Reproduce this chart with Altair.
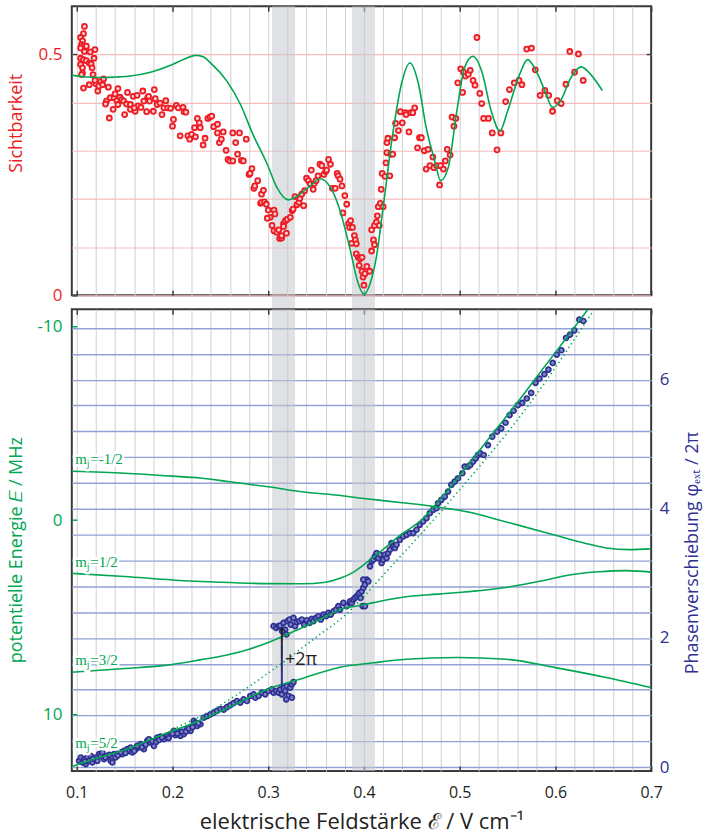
import altair as alt
import pandas as pd

# ---------------- colours ----------------
RED = "#ed1c24"
GREEN = "#00a651"
BLUE = "#2e3192"
DARK = "#231f20"
FRAME = "#3a3a3a"
FONT = "Open Sans"

# ---------------- axes / domains ----------------
X_DOMAIN = [0.0948, 0.7]
VIS_DOMAIN = [0, 0.6]
E_DOMAIN = [-10.87, 12.93]
P_DOMAIN = [-0.06, 7.09]

major_ticks = [0.1, 0.2, 0.3, 0.4, 0.5, 0.6, 0.7]
minor_grid = [0.1, 0.12, 0.14, 0.16, 0.18, 0.2, 0.22, 0.24, 0.26, 0.28, 0.3, 0.32, 0.34,
              0.36, 0.38, 0.4, 0.42, 0.44, 0.46, 0.48, 0.5, 0.52, 0.54, 0.56, 0.58, 0.6,
              0.62, 0.64, 0.66, 0.68]
vis_grid = [0, 0.1, 0.2, 0.3, 0.4, 0.5]
energy_ticks = [-10, 0, 10]
phase_grid = [0, 0.4, 0.8, 1.2, 1.6, 2, 2.4, 2.8, 3.2, 3.6, 4, 4.4, 4.8, 5.2, 5.6, 6, 6.4, 6.8]

# shaded field regions
band_start = [0.304, 0.3875]
band_end = [0.328, 0.4115]

# ---------------- visibility data (top panel) ----------------
vis_x = [
    0.108, 0.107, 0.104, 0.106, 0.105, 0.107, 0.110, 0.104, 0.108, 0.104,
    0.107, 0.110, 0.113, 0.104, 0.115, 0.106, 0.116, 0.118, 0.119, 0.114,
    0.106, 0.117, 0.105, 0.107, 0.113, 0.120, 0.119, 0.123, 0.125, 0.128,
    0.127, 0.122, 0.133, 0.131, 0.130, 0.135, 0.139, 0.138, 0.134, 0.143,
    0.140, 0.142, 0.145, 0.147, 0.143, 0.149, 0.152, 0.153, 0.156, 0.156,
    0.150, 0.159, 0.161, 0.163, 0.164, 0.160, 0.167, 0.170, 0.169, 0.174,
    0.175, 0.176, 0.181, 0.182, 0.180, 0.173, 0.184, 0.187, 0.189, 0.191,
    0.193, 0.195, 0.198, 0.200, 0.201, 0.204, 0.206, 0.208, 0.211, 0.212,
    0.214, 0.216, 0.218, 0.220, 0.223, 0.224, 0.226, 0.228, 0.229, 0.232,
    0.234, 0.237, 0.239, 0.241, 0.243, 0.247, 0.247, 0.249, 0.251, 0.253,
    0.256, 0.258, 0.260, 0.263, 0.263, 0.266, 0.268, 0.270, 0.272, 0.274,
    0.277, 0.280, 0.281, 0.283, 0.285, 0.286, 0.289, 0.292, 0.293, 0.295,
    0.293, 0.296, 0.298, 0.300, 0.302, 0.299, 0.304, 0.306, 0.307, 0.306,
    0.309, 0.311, 0.312, 0.314, 0.316, 0.314, 0.316, 0.319, 0.318, 0.320,
    0.323, 0.325, 0.326, 0.328, 0.330, 0.332, 0.333, 0.335, 0.337, 0.338,
    0.340, 0.342, 0.344, 0.345, 0.347, 0.348, 0.350, 0.352, 0.354, 0.356,
    0.358, 0.360, 0.361, 0.363, 0.365, 0.367, 0.370, 0.372, 0.373,
    0.375, 0.377, 0.380, 0.378, 0.382, 0.384, 0.386, 0.385, 0.388, 0.387,
    0.390, 0.391, 0.392, 0.392, 0.394, 0.396, 0.398, 0.395, 0.398, 0.399,
    0.401, 0.403, 0.406, 0.400, 0.408, 0.410, 0.411, 0.408, 0.411, 0.413,
    0.414, 0.416, 0.415, 0.417, 0.418, 0.420, 0.419, 0.422, 0.423, 0.424,
    0.424, 0.425, 0.427, 0.428, 0.430, 0.432, 0.433, 0.436, 0.438, 0.440,
    0.443, 0.444, 0.447, 0.449, 0.451, 0.453, 0.456, 0.458, 0.460, 0.463,
    0.465, 0.467, 0.469, 0.472, 0.473, 0.476, 0.479, 0.480, 0.483, 0.485,
    0.487, 0.490, 0.492, 0.494, 0.496, 0.498, 0.501, 0.503, 0.504, 0.506,
    0.509, 0.511, 0.514, 0.516, 0.518, 0.521, 0.523, 0.525, 0.530, 0.534,
    0.539, 0.543, 0.548, 0.552, 0.557, 0.562, 0.565, 0.570, 0.575, 0.579,
    0.584, 0.589, 0.593, 0.597, 0.602, 0.606, 0.611, 0.615, 0.620, 0.624, 0.629,
]
vis_y = [
    0.558, 0.543, 0.535, 0.528, 0.520, 0.517, 0.517, 0.513, 0.506, 0.492,
    0.489, 0.487, 0.482, 0.479, 0.480, 0.472, 0.472, 0.492, 0.510, 0.505,
    0.461, 0.458, 0.458, 0.430, 0.437, 0.439, 0.446, 0.434, 0.444, 0.449,
    0.437, 0.424, 0.432, 0.403, 0.397, 0.410, 0.410, 0.386, 0.368, 0.429,
    0.418, 0.404, 0.411, 0.406, 0.396, 0.403, 0.397, 0.421, 0.396, 0.386,
    0.375, 0.413, 0.382, 0.415, 0.393, 0.389, 0.390, 0.403, 0.424, 0.410,
    0.413, 0.403, 0.427, 0.408, 0.382, 0.381, 0.396, 0.399, 0.375, 0.389,
    0.404, 0.389, 0.388, 0.351, 0.365, 0.394, 0.389, 0.331, 0.390, 0.381,
    0.380, 0.331, 0.324, 0.334, 0.348, 0.329, 0.367, 0.358, 0.348, 0.312,
    0.326, 0.367, 0.370, 0.372, 0.350, 0.355, 0.337, 0.317, 0.324, 0.339,
    0.301, 0.282, 0.279, 0.279, 0.337, 0.317, 0.293, 0.337, 0.280, 0.279,
    0.324, 0.251, 0.253, 0.263, 0.222, 0.227, 0.238, 0.191, 0.210, 0.218,
    0.193, 0.194, 0.189, 0.177, 0.162, 0.160, 0.145, 0.177, 0.169, 0.134,
    0.131, 0.136, 0.118, 0.119, 0.149, 0.124, 0.143, 0.129, 0.155, 0.158,
    0.162, 0.176, 0.179, 0.205, 0.188, 0.193, 0.201, 0.210, 0.186, 0.217,
    0.243, 0.238, 0.231, 0.260, 0.220, 0.232, 0.238, 0.248, 0.272, 0.269,
    0.251, 0.257, 0.260, 0.282, 0.272, 0.222, 0.222, 0.253, 0.248,
    0.241, 0.227, 0.207, 0.171, 0.189, 0.149, 0.155, 0.141, 0.141, 0.108,
    0.124, 0.115, 0.107, 0.086, 0.079, 0.076, 0.079, 0.062, 0.050, 0.038,
    0.045, 0.060, 0.050, 0.021, 0.092, 0.115, 0.105, 0.136, 0.145, 0.152,
    0.165, 0.145, 0.184, 0.191, 0.220, 0.184, 0.253, 0.247, 0.275, 0.296,
    0.317, 0.326, 0.248, 0.293, 0.293, 0.327, 0.357, 0.342, 0.381, 0.358,
    0.379, 0.375, 0.339, 0.379, 0.379, 0.389, 0.306, 0.327, 0.327, 0.300,
    0.262, 0.303, 0.269, 0.287, 0.265, 0.269, 0.229, 0.269, 0.262, 0.279,
    0.303, 0.291, 0.370, 0.351, 0.367, 0.441, 0.470, 0.421, 0.463, 0.455,
    0.459, 0.467, 0.446, 0.436, 0.535, 0.419, 0.398, 0.367, 0.367, 0.337,
    0.302, 0.337, 0.402, 0.427, 0.441, 0.446, 0.437, 0.511, 0.513, 0.468,
    0.415, 0.425, 0.415, 0.382, 0.404, 0.398, 0.438, 0.506, 0.463, 0.501, 0.446,
]

# theoretical visibility curve
visfit_x = [0.0948, 0.11, 0.125, 0.14, 0.156, 0.177, 0.2, 0.212, 0.224, 0.232, 0.24, 0.257,
            0.271, 0.284, 0.299, 0.309, 0.321, 0.333, 0.344, 0.354, 0.365, 0.375, 0.385,
            0.394, 0.4, 0.406, 0.413, 0.42, 0.43, 0.439, 0.448, 0.457, 0.465, 0.474, 0.48,
            0.488, 0.497, 0.505, 0.514, 0.523, 0.533, 0.542, 0.55, 0.5625, 0.571, 0.58,
            0.589, 0.597, 0.606, 0.616, 0.627, 0.637, 0.649]
visfit_y = [0.457, 0.453, 0.452, 0.453, 0.455, 0.463, 0.479, 0.49, 0.498, 0.495, 0.482, 0.444,
            0.396, 0.334, 0.272, 0.224, 0.198, 0.21, 0.227, 0.242, 0.224, 0.176, 0.1,
            0.025, 0.002, 0.022, 0.08, 0.182, 0.334, 0.437, 0.482, 0.438, 0.348, 0.279, 0.238,
            0.265, 0.382, 0.472, 0.496, 0.465, 0.382, 0.341, 0.382, 0.458, 0.489, 0.465,
            0.424, 0.39, 0.406, 0.451, 0.474, 0.458, 0.425]

# ---------------- phase data (bottom panel, right axis) ----------------
phase_x = [
    0.1024, 0.1042, 0.1059, 0.1076, 0.1094, 0.1111, 0.1128, 0.1146, 0.1163, 0.1181,
    0.1198, 0.1215, 0.1233, 0.125, 0.1267, 0.1285, 0.1319, 0.1354, 0.1372, 0.1389,
    0.1406, 0.1441, 0.1476, 0.1493, 0.1528, 0.1545, 0.1563, 0.158, 0.1615, 0.1649,
    0.1667, 0.1701, 0.1736, 0.1753, 0.1771, 0.1806, 0.184, 0.1875, 0.191, 0.1944,
    0.1979, 0.2014, 0.2031, 0.2066, 0.2083, 0.2118, 0.2153, 0.2188, 0.2222, 0.224,
    0.2257, 0.2292,
    0.1085, 0.117, 0.130, 0.134, 0.143, 0.146, 0.151, 0.160, 0.163, 0.168,
    0.172, 0.179, 0.183, 0.186, 0.189, 0.196, 0.200, 0.205, 0.210, 0.214, 0.217, 0.221, 0.227,
    0.2326, 0.2361, 0.2396, 0.2431, 0.2465, 0.25, 0.2535, 0.2569, 0.2604, 0.2639,
    0.2674, 0.2708, 0.2743, 0.2778, 0.2813, 0.2847, 0.2865, 0.2899, 0.2934, 0.2969,
    0.3003, 0.3038, 0.3056, 0.3083, 0.3108, 0.3125, 0.3142, 0.316, 0.3177, 0.3194,
    0.3212, 0.3229, 0.3247, 0.3188, 0.3247, 0.3264,
    0.3056, 0.3083, 0.3108, 0.3125, 0.316, 0.3177, 0.3201, 0.3222, 0.3236, 0.3264,
    0.3281, 0.3299, 0.3326, 0.3351, 0.3375, 0.3403, 0.3431, 0.3455, 0.3472, 0.35,
    0.3524, 0.3549, 0.3576, 0.3604, 0.3628, 0.3653, 0.3681, 0.3708, 0.3733, 0.319, 0.3146,
    0.375, 0.3785, 0.3819, 0.3854, 0.3872, 0.3889, 0.3906, 0.3924, 0.3941, 0.3951,
    0.3965, 0.3976, 0.3986, 0.401, 0.3993, 0.401, 0.4028, 0.4045, 0.3993, 0.4063,
    0.408, 0.4097, 0.4115, 0.4132, 0.4149, 0.4167, 0.4184, 0.4201, 0.4219, 0.4236,
    0.4253, 0.4271, 0.4288, 0.4306, 0.4323, 0.434, 0.4375, 0.441, 0.4444, 0.4479,
    0.4514, 0.4549, 0.4583, 0.4618, 0.4653, 0.4688, 0.4722, 0.4757, 0.4774, 0.4809,
    0.4844, 0.4878, 0.4913, 0.4948, 0.4983,
    0.5028, 0.5052, 0.5087, 0.5111, 0.5139, 0.5167, 0.5191, 0.5215, 0.525, 0.5295,
    0.534, 0.5389, 0.5434, 0.5479, 0.5521, 0.5563, 0.5608, 0.5653, 0.5701, 0.5747,
    0.5792, 0.5833, 0.5885, 0.5927, 0.5972, 0.6014, 0.6063, 0.6111, 0.6153, 0.6198, 0.625, 0.6292,
]
phase_y = [
    0.098, 0.149, 0.072, 0.124, 0.046, 0.149, 0.098, 0.175, 0.072, 0.124,
    0.149, 0.098, 0.201, 0.175, 0.227, 0.124, 0.175, 0.098, 0.072, 0.201,
    0.149, 0.227, 0.201, 0.252, 0.278, 0.252, 0.304, 0.227, 0.278, 0.304,
    0.355, 0.278, 0.407, 0.432, 0.381, 0.329, 0.458, 0.474, 0.432, 0.484,
    0.510, 0.561, 0.494, 0.546, 0.484, 0.510, 0.587, 0.561, 0.716, 0.690,
    0.638, 0.664,
    0.09, 0.13, 0.15, 0.19, 0.18, 0.23, 0.22, 0.25, 0.33, 0.31,
    0.35, 0.40, 0.39, 0.42, 0.46, 0.45, 0.52, 0.52, 0.55, 0.55, 0.60, 0.62, 0.68,
    0.765, 0.79, 0.815, 0.845, 0.87, 0.9, 0.89, 0.93, 0.96, 0.99,
    1.024, 0.999, 1.050, 1.024, 1.102, 1.127, 1.076, 1.102, 1.153, 1.127,
    1.179, 1.205, 1.153, 1.179, 1.153, 1.205, 1.127, 1.230, 1.179, 1.256,
    1.102, 1.230, 1.282, 1.050, 1.076, 1.318,
    2.183, 2.157, 2.183, 2.193, 2.234, 2.131, 2.260, 2.286, 2.208, 2.311,
    2.183, 2.245, 2.260, 2.286, 2.208, 2.275, 2.234, 2.296, 2.260, 2.311,
    2.337, 2.286, 2.363, 2.337, 2.389, 2.363, 2.414, 2.440, 2.492, 2.054, 2.106,
    2.440, 2.543, 2.492, 2.569, 2.543, 2.595, 2.620, 2.646, 2.672, 2.698,
    2.620, 2.723, 2.492, 2.492, 2.775, 2.826, 2.904, 2.878, 2.904, 3.109,
    3.187, 3.212, 3.264, 3.315, 3.238, 3.290, 3.161, 3.212, 3.290, 3.238,
    3.315, 3.367, 3.470, 3.418, 3.393, 3.444, 3.521, 3.573, 3.598, 3.624,
    3.624, 3.676, 3.753, 3.804, 3.856, 3.933, 3.985, 4.010, 4.087, 4.139,
    4.190, 4.268, 4.371, 4.422, 4.474,
    4.551, 4.654, 4.654, 4.680, 4.731, 4.782, 4.834, 4.860, 4.834, 4.988,
    5.117, 5.194, 5.246, 5.333, 5.452, 5.519, 5.606, 5.642, 5.709, 5.797,
    5.951, 6.018, 6.085, 6.157, 6.260, 6.389, 6.456, 6.646, 6.698, 6.764, 6.929, 6.909,
]

# ---------------- energy levels (bottom panel, left axis) ----------------
lvl_m12n_x = [0.0948, 0.15, 0.2, 0.229, 0.26, 0.3, 0.333, 0.37, 0.4, 0.44, 0.472, 0.514,
              0.54, 0.566, 0.6, 0.63, 0.653, 0.677, 0.7]
lvl_m12n_E = [-2.52, -2.42, -2.27, -2.17, -1.98, -1.72, -1.48, -1.3, -1.12, -0.9, -0.71, -0.37,
              -0.02, 0.32, 0.78, 1.18, 1.43, 1.52, 1.48]
lvl_m12_x = [0.0948, 0.15, 0.2, 0.25, 0.3, 0.335, 0.36, 0.375, 0.39, 0.405, 0.42, 0.44, 0.46,
             0.48, 0.5, 0.52, 0.54, 0.56, 0.58, 0.6, 0.62, 0.634]
lvl_m12_E = [2.74, 2.9, 3.08, 3.2, 3.27, 3.28, 3.2, 3.0, 2.65, 2.1, 1.5, 0.7, 0.0,
             -1.1, -2.3, -3.55, -4.8, -6.05, -7.35, -8.65, -9.95, -10.87]
lvl_m32_x = [0.0948, 0.15, 0.19, 0.229, 0.257, 0.28, 0.3, 0.316, 0.33, 0.344, 0.36, 0.375,
             0.39, 0.41, 0.444, 0.48, 0.514, 0.54, 0.566, 0.59, 0.618, 0.645, 0.674, 0.7]
lvl_m32_E = [7.84, 7.65, 7.5, 7.2, 6.95, 6.65, 6.3, 5.97, 5.66, 5.35, 4.97, 4.6,
             4.45, 4.25, 3.95, 3.8, 3.66, 3.52, 3.32, 3.08, 2.8, 2.66, 2.6, 2.68]
lvl_m52_x = [0.0948, 0.118, 0.153, 0.1875, 0.222, 0.257, 0.264, 0.299, 0.333, 0.375, 0.41,
             0.444, 0.497, 0.549, 0.6, 0.653, 0.7]
lvl_m52_E = [12.7, 12.31, 11.8, 11.1, 10.45, 9.7, 9.53, 8.71, 8.2, 7.58, 7.35,
             7.17, 7.08, 7.17, 7.6, 8.11, 8.63]

# dotted comparison curve
dot_x = [0.2, 0.243, 0.3, 0.354, 0.375, 0.43, 0.5, 0.57, 0.64]
dot_E = [10.78, 9.74, 7.88, 5.89, 5.12, 2.3, -1.57, -5.8, -10.82]

# level labels
label_x = [0.0985, 0.0985, 0.0985, 0.0985]
label_E = [-2.87, 2.43, 7.48, 11.73]
label_rest = ["=-1/2", "=1/2", "=3/2", "=5/2"]

# +2pi jump
jump_x = [0.3142, 0.3142, 0.3142, 0.3142]
jump_top = [2.14, 1.91, 1.69, 1.46]
jump_bot = [1.91, 1.69, 1.46, 1.23]
jump_col = ["#231f20", "#22224a", "#282b74", "#2e3192"]
jump_text_x = [0.3175]
jump_text_p = [1.66]

# ---------------- layout ----------------
W, HT, HB, GAP = 581, 290, 463, 14

xs = alt.Scale(domain=X_DOMAIN, nice=False, zero=False)
vis_scale = alt.Scale(domain=VIS_DOMAIN, nice=False, zero=False)
e_scale = alt.Scale(domain=E_DOMAIN, reverse=True, nice=False, zero=False)
p_scale = alt.Scale(domain=P_DOMAIN, nice=False, zero=False)

band_df = pd.DataFrame({"start": band_start, "end": band_end})


def grid_axis():
    return alt.Axis(orient="bottom", values=minor_grid, grid=True, gridColor="#d0d0d0",
                    gridWidth=1, ticks=False, labels=False, domain=False, title=None)


def tick_axis(orient):
    return alt.Axis(orient=orient, values=major_ticks, offset=-5, tickSize=5, tickWidth=1.5,
                    tickColor=FRAME, labels=False, domain=False, grid=False, title=None)


BAND_COLOR = "#c6c9cd"

# ----- top panel -----
top_band = alt.Chart(band_df).mark_rect(color=BAND_COLOR, opacity=0.55).encode(
    x=alt.X("start:Q", scale=xs, axis=grid_axis()), x2="end:Q",
    y=alt.value(0), y2=alt.value(HT))
top_band_gap = alt.Chart(band_df).mark_rect(color=BAND_COLOR, opacity=0.55).encode(
    x=alt.X("start:Q", scale=xs, axis=None), x2="end:Q",
    y=alt.value(HT + 1), y2=alt.value(HT + GAP - 1))

vis_df = pd.DataFrame({"F": vis_x, "V": vis_y})
vis_pts = alt.Chart(vis_df).mark_circle(
    size=25, fill="#fbd0d0", fillOpacity=1, stroke=RED, strokeWidth=1.8, opacity=1
).encode(
    x=alt.X("F:Q", scale=xs, axis=tick_axis("bottom")),
    y=alt.Y("V:Q", scale=vis_scale,
            axis=alt.Axis(orient="right", values=[0.5], offset=-5, tickSize=5, tickWidth=1.5,
                          tickColor=FRAME, labels=False, domain=False, grid=False, title=None)))

visfit_df = pd.DataFrame({"F": visfit_x, "V": visfit_y})
vis_fit = alt.Chart(visfit_df).mark_line(
    color=GREEN, strokeWidth=1.6, interpolate="monotone", clip=True
).encode(
    x=alt.X("F:Q", scale=xs, axis=tick_axis("top")),
    y=alt.Y("V:Q", scale=vis_scale,
            axis=alt.Axis(orient="left", values=vis_grid, format="~g", offset=-5, tickSize=5,
                          tickWidth=1.5, tickColor=FRAME,
                          tickOpacity={"condition": {"test": "datum.value == 0 || datum.value == 0.5",
                                                     "value": 1}, "value": 0},
                          labelExpr="(datum.value == 0 || datum.value == 0.5) ? datum.label : ''",
                          labelColor=RED, labelFontSize=17, labelPadding=10, labelOverlap=False,
                          grid=True, gridColor="#f6bcbc", gridWidth=1.2, domain=False,
                          title="Sichtbarkeit", titleColor=RED, titleFontSize=18,
                          titleFontWeight="normal", titleX=-51, titleY=117,
                          titleAngle=270, titleBaseline="bottom", titleAlign="center")))

top = alt.layer(top_band, top_band_gap, vis_pts, vis_fit).resolve_scale(
    x="independent", y="independent").properties(width=W, height=HT)

# ----- bottom panel -----
bot_band = alt.Chart(band_df).mark_rect(color=BAND_COLOR, opacity=0.55).encode(
    x=alt.X("start:Q", scale=xs, axis=grid_axis()), x2="end:Q",
    y=alt.value(0), y2=alt.value(HB))

phase_df = pd.DataFrame({"F": phase_x, "P": phase_y})
phase_pts = alt.Chart(phase_df).mark_circle(
    size=25, fill="#7f84c6", fillOpacity=1, stroke=BLUE, strokeWidth=1.7, opacity=1
).encode(
    x=alt.X("F:Q", scale=xs,
            axis=alt.Axis(orient="bottom", values=major_ticks, format=".1f", offset=-5, tickSize=5,
                          tickWidth=1.5, tickColor=FRAME, labelColor=DARK, labelFontSize=16,
                          labelPadding=14, labelFlush=False, domain=False, grid=False,
                          title="elektrische Feldstärke ℰ / V cm⁻¹", titleColor=DARK,
                          titleFontSize=22, titleFontWeight="normal", titlePadding=11)),
    y=alt.Y("P:Q", scale=p_scale,
            axis=alt.Axis(orient="right", values=phase_grid, format="~g", ticks=False,
                          labelExpr="(datum.value == 0 || datum.value == 2 || datum.value == 4 || datum.value == 6) ? datum.label : ''",
                          labelColor=BLUE, labelFontSize=17, labelPadding=8, labelOverlap=False,
                          grid=True, gridColor="#93a1d4", gridWidth=1.4, domain=False,
                          title="Phasenverschiebung φₑₓₜ / 2π", titleColor=BLUE, titleFontSize=18,
                          titleFontWeight="normal", titleAngle=270, titleBaseline="top",
                          titleAlign="center", titleX=32, titleY=244)))

levels_df = pd.concat([
    pd.DataFrame({"level": "-1/2", "F": lvl_m12n_x, "E": lvl_m12n_E}),
    pd.DataFrame({"level": "1/2", "F": lvl_m12_x, "E": lvl_m12_E}),
    pd.DataFrame({"level": "3/2", "F": lvl_m32_x, "E": lvl_m32_E}),
    pd.DataFrame({"level": "5/2", "F": lvl_m52_x, "E": lvl_m52_E}),
])
levels = alt.Chart(levels_df).mark_line(
    color=GREEN, strokeWidth=1.6, interpolate="monotone", clip=True
).encode(
    x=alt.X("F:Q", scale=xs, axis=tick_axis("top")),
    y=alt.Y("E:Q", scale=e_scale,
            axis=alt.Axis(orient="left", values=energy_ticks, offset=-5, tickSize=5, tickWidth=1.5,
                          tickColor=GREEN, labelColor=GREEN, labelFontSize=17, labelPadding=10,
                          labelExpr="replace(datum.label, '−', '-')", grid=False, domain=False,
                          title="potentielle Energie 𝐸 / MHz", titleColor=GREEN, titleFontSize=18,
                          titleFontWeight="normal", titleX=-51, titleY=241,
                          titleAngle=270, titleBaseline="bottom", titleAlign="center")),
    detail="level:N")

dot_df = pd.DataFrame({"F": dot_x, "E": dot_E})
dotted = alt.Chart(dot_df).mark_line(
    color=GREEN, strokeWidth=1.6, strokeDash=[1.3, 3.2], interpolate="monotone", clip=True
).encode(x=alt.X("F:Q", scale=xs, axis=None), y=alt.Y("E:Q", scale=e_scale, axis=None))

jump_df = pd.DataFrame({"F": jump_x, "top": jump_top, "bot": jump_bot, "c": jump_col})
jump = alt.Chart(jump_df).mark_rule(strokeWidth=2).encode(
    x=alt.X("F:Q", scale=xs, axis=None),
    y=alt.Y("top:Q", scale=p_scale, axis=None), y2="bot:Q",
    color=alt.Color("c:N", scale=None))
jump_head = alt.Chart(jump_df.head(1)).mark_point(
    shape="triangle-up", size=18, filled=True, color=DARK, opacity=1
).encode(x=alt.X("F:Q", scale=xs, axis=None), y=alt.Y("top:Q", scale=p_scale, axis=None))

jt_df = pd.DataFrame({"F": jump_text_x, "P": jump_text_p, "t": ["+2π"]})
jump_text = alt.Chart(jt_df).mark_text(
    align="left", baseline="middle", fontSize=18, font=FONT, color=DARK
).encode(x=alt.X("F:Q", scale=xs, axis=None), y=alt.Y("P:Q", scale=p_scale, axis=None), text="t:N")

lab_df = pd.DataFrame({"F": label_x, "E": label_E, "rest": label_rest, "m": ["m"] * 4, "j": ["j"] * 4})


def lab_layer(field, dx, dy, size, halo):
    kw = dict(align="left", baseline="alphabetic", font="Liberation Serif", fontSize=size,
              dx=dx, dy=dy)
    if halo:
        mk = alt.Chart(lab_df).mark_text(color="white", stroke="white", strokeWidth=5, **kw)
    else:
        mk = alt.Chart(lab_df).mark_text(color=GREEN, **kw)
    return mk.encode(x=alt.X("F:Q", scale=xs, axis=None),
                     y=alt.Y("E:Q", scale=e_scale, axis=None), text=f"{field}:N")


label_layers = [
    lab_layer("m", 0, 0, 15, True), lab_layer("j", 11.5, 3, 10, True), lab_layer("rest", 15, 0, 15, True),
    lab_layer("m", 0, 0, 15, False), lab_layer("j", 11.5, 3, 10, False), lab_layer("rest", 15, 0, 15, False),
]

bottom = alt.layer(bot_band, phase_pts, levels, dotted, jump, jump_head, jump_text,
                   *label_layers).resolve_scale(
    x="independent", y="independent").properties(width=W, height=HB)

chart = alt.vconcat(top, bottom, spacing=GAP, bounds="flush").properties(
    padding={"left": 7, "top": 3, "right": 3, "bottom": 2}
).configure(font=FONT).configure_view(
    stroke=FRAME, strokeWidth=2
).configure_axis(labelFont=FONT, titleFont=FONT)

chart.save("out.html", embed_options={"renderer": "svg", "actions": False})
